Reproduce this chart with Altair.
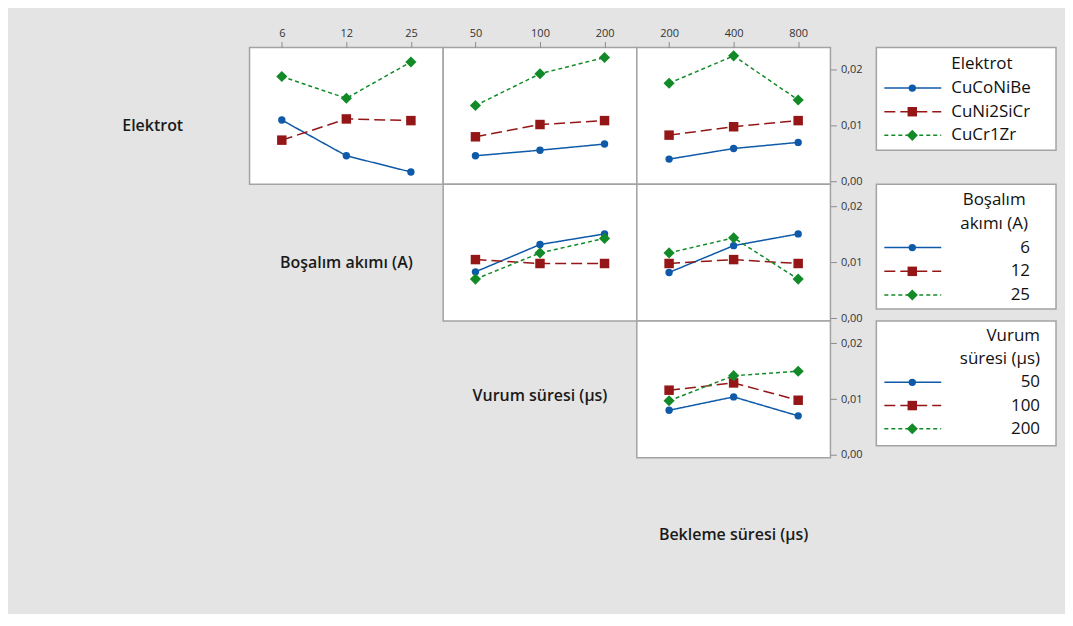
import altair as alt
import pandas as pd

# ---------------- data ----------------
elektrot_levels = ["CuCoNiBe", "CuNi2SiCr", "CuCr1Zr"]
akim_levels = ["6", "12", "25"]
vurum_levels = ["50", "100", "200"]
bekleme_levels = ["200", "400", "800"]

# interaction means (series order = legend order of the row factor)
el_akim = [[0.0110, 0.0046, 0.0017], [0.0074, 0.0112, 0.0109], [0.0188, 0.0149, 0.0214]]
el_vurum = [[0.0046, 0.0056, 0.0067], [0.0080, 0.0102, 0.0109], [0.0136, 0.0193, 0.0222]]
el_bekleme = [[0.0040, 0.0059, 0.0070], [0.0083, 0.0098, 0.0109], [0.0176, 0.0225, 0.0146]]
akim_vurum = [[0.0083, 0.0132, 0.0151], [0.0105, 0.0098, 0.0098], [0.0070, 0.0117, 0.0143]]
akim_bekleme = [[0.0082, 0.0130, 0.0151], [0.0098, 0.0105, 0.0098], [0.0117, 0.0144, 0.0070]]
vurum_bekleme = [[0.0080, 0.0104, 0.0070], [0.0116, 0.0129, 0.0098], [0.0097, 0.0142, 0.0150]]

y_ticks = [0.0, 0.01, 0.02]
y_domain = [-0.0005, 0.024]

# ---------------- style ----------------
FONT = "Open Sans"
W, H = 194, 137
FRAME = "#a3a3a3"
BG = "#e4e4e4"
KEYS = ["0", "1", "2"]
colors = ["#0f5aa8", "#951616", "#138a28"]
shapes = ["circle", "square", "diamond"]
sizes = [55, 125, 270]
dashes = [[1, 0], [11, 5], [4, 3]]

color_enc = alt.Color("k:N", scale=alt.Scale(domain=KEYS, range=colors), legend=None)
dash_enc = alt.StrokeDash("k:N", scale=alt.Scale(domain=KEYS, range=dashes), legend=None)
shape_enc = alt.Shape("k:N", scale=alt.Scale(domain=KEYS, range=shapes), legend=None)
size_enc = alt.Size("k:N", scale=alt.Scale(domain=KEYS, range=sizes), legend=None)


def panel(levels, values, top_axis, right_axis):
    rows = []
    for k, series in enumerate(values):
        for lvl, v in zip(levels, series):
            rows.append({"lvl": lvl, "k": str(k), "v": v})
    df = pd.DataFrame(rows)
    if top_axis:
        xaxis = alt.Axis(orient="top", title=None, labelAngle=0, domain=False, grid=False,
                         tickColor="#8c8c8c", tickSize=6, labelPadding=3, labelFontSize=11,
                         labelColor="#333333", labelFont=FONT)
    else:
        xaxis = None
    if right_axis:
        yaxis = alt.Axis(orient="right", values=y_ticks, title=None, grid=False, domain=False,
                         tickColor="#8c8c8c", tickSize=6, labelPadding=4, labelFontSize=11,
                         labelColor="#333333", labelFont=FONT,
                         labelExpr="replace(format(datum.value, '.2f'), '.', ',')")
    else:
        yaxis = None
    x = alt.X("lvl:O", sort=levels, scale=alt.Scale(type="point", padding=0.5), axis=xaxis)
    y = alt.Y("v:Q", scale=alt.Scale(domain=y_domain, nice=False, zero=False), axis=yaxis)
    base = alt.Chart(df)
    line = base.mark_line(strokeWidth=1.5).encode(x=x, y=y, color=color_enc, strokeDash=dash_enc, detail="k:N")
    pts = base.mark_point(filled=True, opacity=1).encode(x=x, y=y, color=color_enc, shape=shape_enc, size=size_enc)
    return alt.layer(line, pts).properties(
        width=W, height=H, view=alt.ViewBackground(fill="white", stroke=FRAME, strokeWidth=1.5))


def blank(w, h):
    return alt.Chart(pd.DataFrame({"a": [0]})).mark_point(opacity=0).encode(
        x=alt.value(0), y=alt.value(0)).properties(width=w, height=h)


def label(text, w, h, x, y):
    return alt.Chart(pd.DataFrame({"t": [text]})).mark_text(
        font=FONT, fontSize=16, fontWeight=600, color="#1a1a1a", align="center", baseline="middle"
    ).encode(text="t:N", x=alt.value(x), y=alt.value(y)).properties(width=w, height=h)


def legend(title_lines, title_align, title_x, labels, label_align, label_x, y_first, y_last, h):
    all_lines = title_lines + labels
    yscale = alt.Scale(type="point", domain=all_lines, range=[y_first, y_last], padding=0)
    df = pd.DataFrame({"label": labels, "k": KEYS})
    tdf = pd.DataFrame({"label": title_lines})
    yenc = alt.Y("label:N", scale=yscale, axis=None)
    rule = alt.Chart(df).mark_rule(strokeWidth=1.5).encode(
        x=alt.value(8), x2=alt.value(65), y=yenc, color=color_enc, strokeDash=dash_enc)
    pt = alt.Chart(df).mark_point(filled=True, opacity=1).encode(
        x=alt.value(36), y=yenc, color=color_enc, shape=shape_enc, size=size_enc)
    txt = alt.Chart(df).mark_text(align=label_align, baseline="middle", font=FONT, fontSize=17,
                                  color="#111111").encode(x=alt.value(label_x), y=yenc, text="label:N")
    ttl = alt.Chart(tdf).mark_text(align=title_align, baseline="middle", font=FONT, fontSize=17,
                                   fontWeight=500, color="#111111").encode(
        x=alt.value(title_x), y=yenc, text="label:N")
    return alt.layer(rule, pt, txt, ttl).properties(
        width=180, height=h, view=alt.ViewBackground(fill="white", stroke=FRAME, strokeWidth=1.5))


leg1 = legend(["Elektrot"], "left", 75, elektrot_levels, "left", 75, 17, 88, 103)
leg2 = legend(["Boşalım", "akımı (A)"], "center", 118, akim_levels, "right", 154, 16, 111, 125)
leg3 = legend(["Vurum", "süresi (µs)"], "right", 164, vurum_levels, "right", 164, 15, 108, 125)

cells = [
    label("Elektrot", W, H, 97, 79),
    panel(akim_levels, el_akim, True, False),
    panel(vurum_levels, el_vurum, True, False),
    panel(bekleme_levels, el_bekleme, True, True),
    blank(46, H), leg1,

    blank(W, H),
    label("Boşalım akımı (A)", W, H, 97, 79),
    panel(vurum_levels, akim_vurum, False, False),
    panel(bekleme_levels, akim_bekleme, False, True),
    blank(46, H), leg2,

    blank(W, H), blank(W, H),
    label("Vurum süresi (µs)", W, H, 97, 75),
    panel(bekleme_levels, vurum_bekleme, False, True),
    blank(46, H), leg3,

    blank(W, H), blank(W, H), blank(W, H),
    label("Bekleme süresi (µs)", W, H, 97, 77),
    blank(46, H), blank(180, H),
]

chart = alt.concat(*cells, columns=6, spacing=0, bounds="flush", align="each").resolve_scale(
    x="independent", y="independent"
).properties(
    padding={"left": 45, "top": 18, "right": 8, "bottom": 19},
    background=BG,
).configure_view(strokeWidth=0)

chart.save("out.html", embed_options={"renderer": "svg", "actions": False})
